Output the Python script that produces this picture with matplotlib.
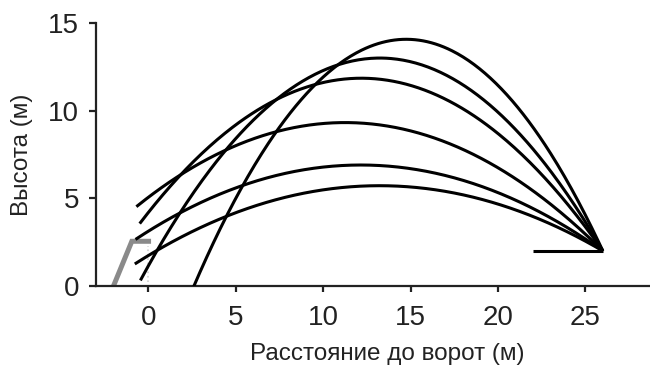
import numpy as np
import matplotlib
matplotlib.use("Agg")
import matplotlib.pyplot as plt

plt.rcParams['font.family'] = ['Liberation Sans', 'DejaVu Sans']

# Trajectories (start x, apex x, apex y); all end at the goal
start_x = [2.55, -0.46, -0.50, -0.69, -0.74, -0.78]
apex_x = [14.75, 13.24, 12.18, 11.25, 12.15, 13.22]
apex_y = [14.07, 13.00, 11.85, 9.32, 6.90, 5.72]
end_x, end_y = 26.0, 2.0

# crossbar / goal line
bar_x = [22.0, 26.0]
bar_y = [2.0, 2.0]

# player (gray)
player_x = [-2.0, -0.95, 0.15]
player_y = [0.0, 2.55, 2.55]

xticks = [0, 5, 10, 15, 20, 25]
yticks = [0, 5, 10, 15]

fig = plt.figure(figsize=(6.5, 3.78), dpi=100)
ax = fig.add_axes([0.1477, 0.2434, 0.8523, 0.6958])

for sx, px, py in zip(start_x, apex_x, apex_y):
    a = (py - end_y) / (end_x - px) ** 2
    x = np.linspace(sx, end_x, 300)
    y = py - a * (x - px) ** 2
    ax.plot(x, y, color='black', lw=2.2, solid_capstyle='butt', zorder=3)

ax.plot(bar_x, bar_y, color='black', lw=2.2, solid_capstyle='butt', zorder=3)
ax.plot(player_x, player_y, color='#8a8a8a', lw=3.6, solid_capstyle='butt',
        solid_joinstyle='miter', zorder=2)
ax.plot([0, 0], [0.2, 2.3], color='#d0d0d0', lw=1.2, ls=':', zorder=1)

ax.set_xlim(-3.0, 28.7)
ax.set_ylim(0, 15)
ax.set_xticks(xticks)
ax.set_yticks(yticks)

for s in ['top', 'right']:
    ax.spines[s].set_visible(False)
for s in ['left', 'bottom']:
    ax.spines[s].set_linewidth(1.6)
    ax.spines[s].set_color('#222222')

ax.tick_params(axis='y', direction='out', length=5, width=1.6, color='#222222',
               labelsize=20, pad=7, labelcolor='#222222')
ax.tick_params(axis='x', direction='out', length=4.5, width=1.6, color='#222222',
               labelsize=20, pad=9, labelcolor='#222222')

ax.set_xlabel('Расстояние до ворот (м)', fontsize=17.5, color='#222222', labelpad=9)
ax.set_ylabel('Высота (м)', fontsize=17.5, color='#222222', labelpad=11)
ax.xaxis.label.set_x(0.525)

fig.savefig('out.png', dpi=100)
